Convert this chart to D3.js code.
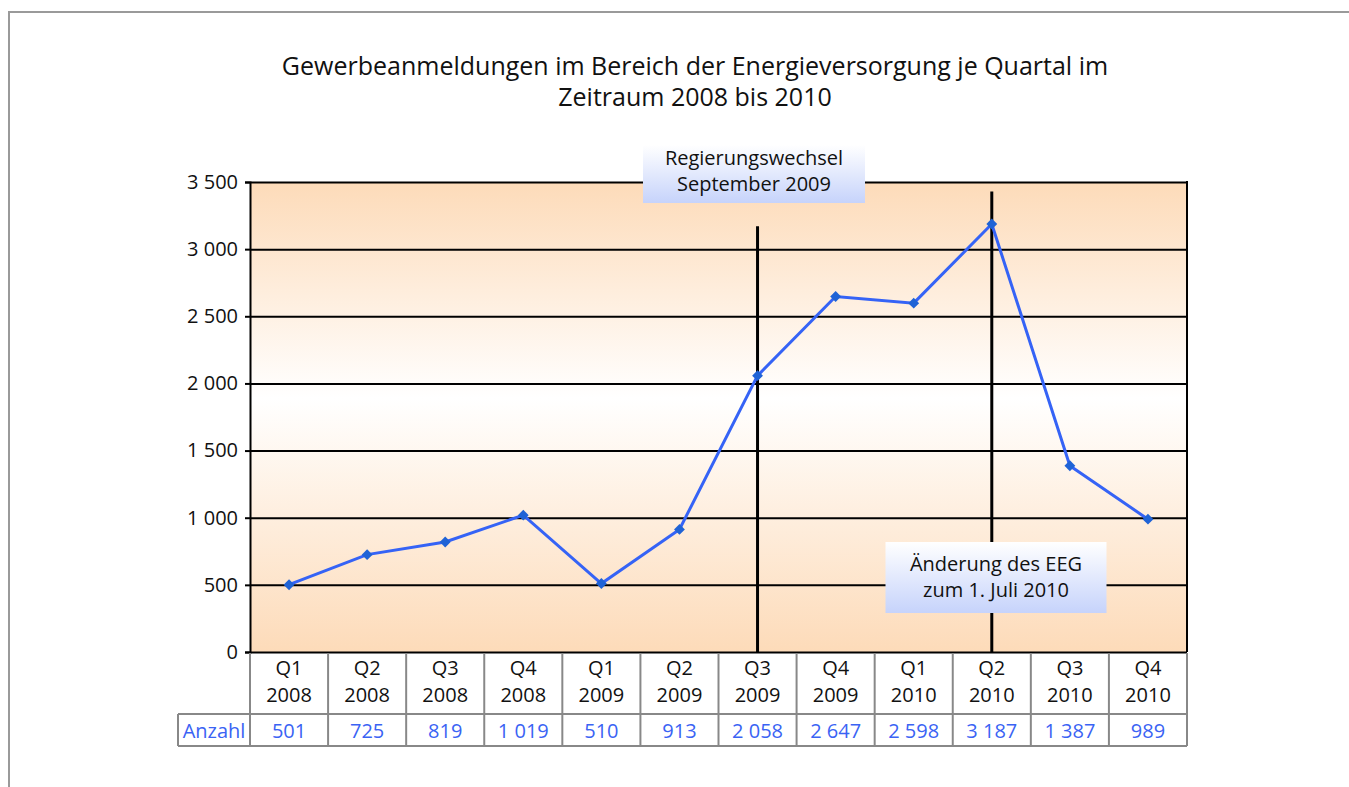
<!DOCTYPE html>
<html>
<head>
<meta charset="utf-8">
<title>Gewerbeanmeldungen Energieversorgung</title>
<style>
html, body {
  margin: 0;
  padding: 0;
  background: #fff;
}
svg {
  display: block;
  font-family: 'Open Sans', 'Noto Sans', sans-serif;
}
.grid line {
  stroke: #000;
  stroke-width: 2px;
}
.cell {
  fill: none;
  stroke: #888;
  stroke-width: 2px;
}
</style>
<script src="https://d3js.org/d3.v7.min.js"></script>
</head>
<body>
<svg width="1349" height="787"></svg>
<script>

// data
var quarters = ["Q1", "Q2", "Q3", "Q4", "Q1", "Q2", "Q3", "Q4", "Q1", "Q2", "Q3", "Q4"];
var years = ["2008", "2008", "2008", "2008", "2009", "2009", "2009", "2009", "2010", "2010", "2010", "2010"];
var anzahl = [501, 725, 819, 1019, 510, 913, 2058, 2647, 2598, 3187, 1387, 989];
var yTicks = [0, 500, 1000, 1500, 2000, 2500, 3000, 3500];
var titleLines = ["Gewerbeanmeldungen im Bereich der Energieversorgung je Quartal im", "Zeitraum 2008 bis 2010"];
var events = [
  {idx: 6, top: 3170, lines: ["Regierungswechsel", "September 2009"]},
  {idx: 9, top: 3430, lines: ["Änderung des EEG", "zum 1. Juli 2010"]}
];

var svg = d3.select("svg");
var pLeft = 250, pRight = 1187, pTop = 182, pBottom = 652;
var keys = d3.range(anzahl.length);

var x = d3.scaleBand().domain(keys).range([pLeft, pRight]);
var y = d3.scaleLinear().domain([0, 3500]).range([pBottom, pTop]);

function fmt(d) { return d3.format(",")(d).replace(",", " "); }

// outer frame
svg.append("rect")
  .attr("x", 9).attr("y", 12)
  .attr("width", 1400).attr("height", 900)
  .attr("fill", "none").attr("stroke", "#9a9a9a").attr("stroke-width", 2);

var defs = svg.append("defs");
var bg = defs.append("linearGradient").attr("id", "bg")
  .attr("x1", 0).attr("y1", 0).attr("x2", 0).attr("y2", 1);
bg.append("stop").attr("offset", "0%").attr("stop-color", "#fddbb9");
bg.append("stop").attr("offset", "46%").attr("stop-color", "#ffffff");
bg.append("stop").attr("offset", "100%").attr("stop-color", "#fddbb9");

var note = defs.append("linearGradient").attr("id", "note")
  .attr("x1", 0).attr("y1", 0).attr("x2", 0).attr("y2", 1);
note.append("stop").attr("offset", "0%").attr("stop-color", "#ffffff");
note.append("stop").attr("offset", "100%").attr("stop-color", "#c6d3fb");

// title
svg.append("g").selectAll("text")
  .data(titleLines)
  .join("text")
    .attr("x", 695)
    .attr("y", function(d, i) { return 75 + i * 31; })
    .attr("text-anchor", "middle")
    .attr("font-size", 25)
    .attr("fill", "#111")
    .text(function(d) { return d; });

// plot background
svg.append("rect")
  .attr("x", pLeft).attr("y", pTop)
  .attr("width", pRight - pLeft).attr("height", pBottom - pTop)
  .attr("fill", "url(#bg)");

// gridlines
svg.append("g").attr("class", "grid")
  .attr("transform", "translate(" + pLeft + ",0)")
  .call(d3.axisLeft(y).tickValues(yTicks).tickSize(-(pRight - pLeft)).tickFormat(""))
  .call(function(g) { g.select(".domain").remove(); });

// y axis
var yAxis = svg.append("g")
  .attr("transform", "translate(" + pLeft + ",0)")
  .call(d3.axisLeft(y).tickValues(yTicks).tickSize(5).tickPadding(7).tickFormat(fmt));
yAxis.select(".domain").attr("stroke", "#000").attr("stroke-width", 2);
yAxis.selectAll(".tick line").attr("stroke", "#000").attr("stroke-width", 2);
yAxis.selectAll(".tick text")
  .attr("font-size", 20)
  .attr("fill", "#111")
  .attr("font-family", "'Open Sans', 'Noto Sans', sans-serif");

// right border
svg.append("line")
  .attr("x1", pRight).attr("x2", pRight).attr("y1", pTop - 1).attr("y2", pBottom)
  .attr("stroke", "#000").attr("stroke-width", 2);

// event lines
svg.append("g").selectAll("line")
  .data(events)
  .join("line")
    .attr("x1", function(d) { return x(d.idx) + x.bandwidth() / 2; })
    .attr("x2", function(d) { return x(d.idx) + x.bandwidth() / 2; })
    .attr("y1", function(d) { return y(d.top); })
    .attr("y2", pBottom)
    .attr("stroke", "#000").attr("stroke-width", 3);

// data line
var line = d3.line()
  .x(function(d, i) { return x(i) + x.bandwidth() / 2; })
  .y(function(d) { return y(d); });

svg.append("path")
  .datum(anzahl)
  .attr("d", line)
  .attr("fill", "none")
  .attr("stroke", "#3563f6")
  .attr("stroke-width", 3);

svg.append("g").selectAll("path")
  .data(anzahl)
  .join("path")
    .attr("d", d3.symbol().type(d3.symbolDiamond2).size(75))
    .attr("transform", function(d, i) { return "translate(" + (x(i) + x.bandwidth() / 2) + "," + y(d) + ")"; })
    .attr("fill", "#1f63d6");

// annotation boxes
var boxes = [
  {cx: 754, y0: 145, w: 222, h: 58, dy: 20, lines: events[0].lines},
  {cx: 996, y0: 542, w: 221, h: 71, dy: 29, lines: events[1].lines}
];
var nb = svg.append("g").selectAll("g")
  .data(boxes)
  .join("g");
nb.append("rect")
  .attr("x", function(d) { return d.cx - d.w / 2; })
  .attr("y", function(d) { return d.y0; })
  .attr("width", function(d) { return d.w; })
  .attr("height", function(d) { return d.h; })
  .attr("fill", "url(#note)");
nb.each(function(d) {
  d3.select(this).selectAll("text")
    .data(d.lines)
    .join("text")
      .attr("x", d.cx)
      .attr("y", function(t, i) { return d.y0 + d.dy + i * 26; })
      .attr("text-anchor", "middle")
      .attr("font-size", 20)
      .attr("fill", "#111")
      .text(function(t) { return t; });
});

// table
var rowTop = pBottom, rowMid = 714, rowBot = 746, labLeft = 178;
var table = svg.append("g");

table.selectAll(".colline")
  .data(d3.range(anzahl.length + 1))
  .join("line")
    .attr("class", "cell")
    .attr("x1", function(i) { return pLeft + i * x.step(); })
    .attr("x2", function(i) { return pLeft + i * x.step(); })
    .attr("y1", rowTop + 1)
    .attr("y2", rowBot);

table.append("line").attr("class", "cell")
  .attr("x1", labLeft).attr("x2", pRight).attr("y1", rowMid).attr("y2", rowMid);
table.append("line").attr("class", "cell")
  .attr("x1", labLeft).attr("x2", pRight).attr("y1", rowBot).attr("y2", rowBot);
table.append("line").attr("class", "cell")
  .attr("x1", labLeft).attr("x2", labLeft).attr("y1", rowMid).attr("y2", rowBot);

table.selectAll(".q")
  .data(quarters)
  .join("text")
    .attr("x", function(d, i) { return x(i) + x.bandwidth() / 2; })
    .attr("y", 675)
    .attr("text-anchor", "middle")
    .attr("font-size", 20)
    .attr("fill", "#111")
    .text(function(d) { return d; });

table.selectAll(".yr")
  .data(years)
  .join("text")
    .attr("x", function(d, i) { return x(i) + x.bandwidth() / 2; })
    .attr("y", 702)
    .attr("text-anchor", "middle")
    .attr("font-size", 20)
    .attr("fill", "#111")
    .text(function(d) { return d; });

table.selectAll(".val")
  .data(anzahl)
  .join("text")
    .attr("x", function(d, i) { return x(i) + x.bandwidth() / 2; })
    .attr("y", 738)
    .attr("text-anchor", "middle")
    .attr("font-size", 20)
    .attr("fill", "#3a63f4")
    .text(fmt);

table.append("text")
  .attr("x", (labLeft + pLeft) / 2)
  .attr("y", 738)
  .attr("text-anchor", "middle")
  .attr("font-size", 20)
  .attr("fill", "#3a63f4")
  .text("Anzahl");

</script>
</body>
</html>
